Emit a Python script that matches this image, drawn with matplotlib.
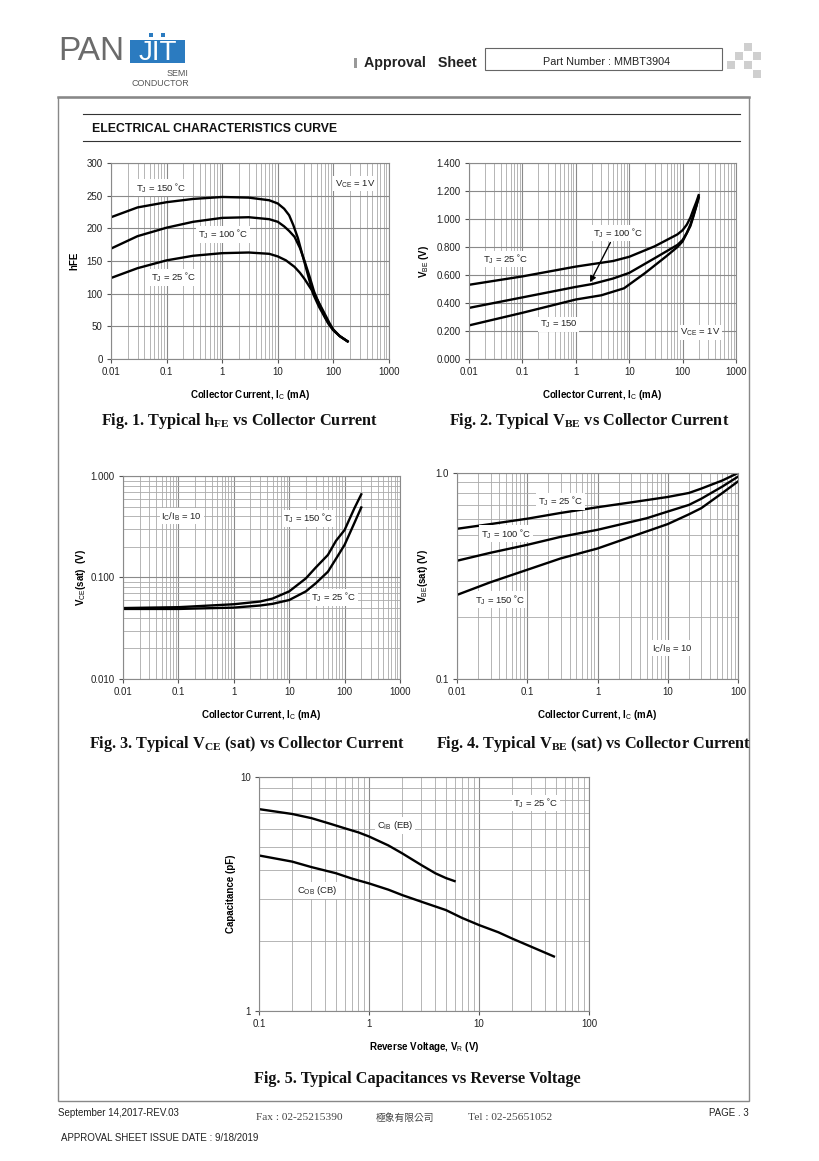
import numpy as np
import matplotlib
matplotlib.use('Agg')
import matplotlib.pyplot as plt
from matplotlib.patches import Rectangle
from matplotlib.ticker import FixedLocator, NullFormatter, LogLocator

plt.rcParams['font.family'] = ['Liberation Sans', 'DejaVu Sans']
plt.rcParams['mathtext.fontset'] = 'custom'
plt.rcParams['mathtext.rm'] = 'Liberation Sans'
plt.rcParams['mathtext.it'] = 'Liberation Sans'
# captions use \mathbf -> serif bold subscripts
plt.rcParams['mathtext.bf'] = 'Liberation Serif:bold'

# ---- Fig. 1 : hFE vs Ic ----
hfe_ic_150 = [0.01, 0.03, 0.1, 0.3, 1, 3, 7, 10, 13, 16, 19, 23, 28, 35, 43, 55, 64, 80, 100, 130, 180]
hfe_150 = [217, 232, 240, 245, 248, 247, 243, 238, 230, 220, 205, 185, 158, 128, 100, 80, 70, 55, 44, 35, 27]
hfe_ic_100 = [0.01, 0.03, 0.1, 0.3, 1, 3, 7, 10, 13, 16, 20, 25, 30, 37, 45, 55, 70, 85, 100, 130, 180]
hfe_100 = [169, 188, 201, 210, 216, 217, 214, 210, 203, 196, 187, 170, 151, 127, 103, 85, 65, 52, 44, 35, 27]
hfe_ic_25 = [0.01, 0.03, 0.1, 0.3, 1, 3, 7, 10, 14, 20, 25, 30, 37, 45, 55, 70, 85, 100, 130, 180]
hfe_25 = [124, 139, 151, 158, 162, 163, 161, 157, 151, 141, 132, 123, 111, 100, 86, 69, 55, 45, 35, 27]

# ---- Fig. 2 : VBE vs Ic ----
vbe_ic_25 = [0.01, 0.1, 1, 5, 10, 30, 80, 100, 120, 140, 160, 180, 200]
vbe_25 = [0.53, 0.59, 0.66, 0.70, 0.73, 0.805, 0.89, 0.92, 0.96, 1.01, 1.07, 1.12, 1.17]
vbe_ic_100 = [0.01, 0.1, 1, 2, 5, 10, 30, 80, 100, 120, 140, 160, 180, 200]
vbe_100 = [0.365, 0.44, 0.515, 0.535, 0.575, 0.615, 0.72, 0.815, 0.85, 0.90, 0.95, 1.02, 1.09, 1.16]
vbe_ic_150 = [0.01, 0.1, 1, 3, 8, 20, 50, 80, 100, 120, 140, 160, 180, 200]
vbe_150 = [0.24, 0.33, 0.425, 0.455, 0.505, 0.615, 0.735, 0.80, 0.84, 0.90, 0.96, 1.03, 1.09, 1.15]

# ---- Fig. 3 : VCE(sat) vs Ic ----
vcesat_ic = [0.01, 0.1, 1, 3, 5, 10, 20, 30, 50, 70, 100, 150, 200]
vcesat_150 = [0.050, 0.051, 0.0545, 0.058, 0.062, 0.073, 0.098, 0.125, 0.167, 0.23, 0.294, 0.48, 0.66]
vcesat_25 = [0.049, 0.049, 0.0505, 0.053, 0.055, 0.060, 0.073, 0.0875, 0.114, 0.153, 0.21, 0.344, 0.49]

# ---- Fig. 4 : VBE(sat) vs Ic ----
vbesat_ic_25 = [0.01, 0.03, 0.1, 0.3, 1, 3, 10, 20, 30, 60, 100]
vbesat_25 = [0.536, 0.565, 0.60, 0.64, 0.682, 0.72, 0.765, 0.80, 0.84, 0.92, 1.0]
vbesat_ic_100 = [0.01, 0.03, 0.1, 0.3, 1, 5, 10, 20, 30, 60, 100]
vbesat_100 = [0.375, 0.41, 0.448, 0.49, 0.53, 0.603, 0.65, 0.70, 0.75, 0.86, 0.96]
vbesat_ic_150 = [0.01, 0.03, 0.1, 0.3, 1, 3, 10, 20, 30, 60, 100]
vbesat_150 = [0.256, 0.295, 0.339, 0.385, 0.43, 0.49, 0.565, 0.63, 0.675, 0.80, 0.91]

# ---- Fig. 5 : Capacitance vs VR ----
cib_vr = [0.1, 0.2, 0.3, 0.45, 0.6, 0.8, 1, 1.5, 2, 3, 4, 5, 6]
cib = [7.29, 6.95, 6.67, 6.3, 6.04, 5.8, 5.57, 5.1, 4.72, 4.2, 3.88, 3.7, 3.59]
cob_vr = [0.1, 0.2, 0.3, 0.5, 0.7, 1, 1.5, 2, 3, 5, 7, 10, 15, 20, 30, 48]
cob = [4.62, 4.35, 4.12, 3.88, 3.68, 3.51, 3.3, 3.13, 2.93, 2.70, 2.5, 2.33, 2.17, 2.04, 1.88, 1.71]

ic_ticks = [0.01, 0.1, 1, 10, 100, 1000]
ic_labels = ['0.01', '0.1', '1', '10', '100', '1000']

W, H = 820, 1161
fig = plt.figure(figsize=(W / 100, H / 100), dpi=100)

# overlay in pixel coordinates for the page decorations
page = fig.add_axes([0, 0, 1, 1])
page.set_xlim(0, W)
page.set_ylim(H, 0)
page.axis('off')


def px_axes(l, t, r, b):
    return fig.add_axes([l / W, 1 - b / H, (r - l) / W, (b - t) / H])


def style(ax, logy=False):
    ax.set_xscale('log')
    if logy:
        ax.set_yscale('log')
    ax.grid(True, which='major', color='#8a8a8a', lw=0.8)
    ax.grid(True, which='minor', axis='x', color='#aaaaaa', lw=0.6)
    if logy:
        ax.grid(True, which='minor', axis='y', color='#aaaaaa', lw=0.6)
    ax.xaxis.set_minor_locator(LogLocator(base=10, subs=np.arange(2, 10)))
    ax.xaxis.set_minor_formatter(NullFormatter())
    if logy:
        ax.yaxis.set_minor_locator(LogLocator(base=10, subs=np.arange(2, 10)))
        ax.yaxis.set_minor_formatter(NullFormatter())
    for s in ax.spines.values():
        s.set_color('#8a8a8a')
        s.set_linewidth(0.8)
    ax.tick_params(which='major', length=3, width=0.8, color='#555555',
                   labelsize=7, labelcolor='#222222', pad=3)
    ax.tick_params(which='minor', length=0)
    ax.set_axisbelow(True)


def lbl(ax, x, y, s, ha='left'):
    ax.text(x, y, s, fontsize=6.8, ha=ha, va='center', color='#222222',
            bbox=dict(fc='white', ec='none', pad=1.2), zorder=4)


LW = 1.7
J = r'$_\mathrm{J}$'
ic_xlabel = r'Collector Current, I$_\mathrm{C}$ (mA)'

# Fig 1
ax1 = px_axes(111, 163, 389, 359)
style(ax1)
ax1.plot(hfe_ic_150, hfe_150, color='k', lw=LW)
ax1.plot(hfe_ic_100, hfe_100, color='k', lw=LW)
ax1.plot(hfe_ic_25, hfe_25, color='k', lw=LW)
ax1.set_xlim(0.01, 1000)
ax1.set_ylim(0, 300)
ax1.set_yticks(range(0, 301, 50))
ax1.xaxis.set_major_locator(FixedLocator(ic_ticks))
ax1.set_xticklabels(ic_labels)
ax1.set_ylabel('hFE', fontsize=7, fontweight='bold', labelpad=5)
ax1.set_xlabel(ic_xlabel, fontsize=7, fontweight='bold', labelpad=8)
lbl(ax1, 0.028, 262, 'T' + J + ' = 150 ˚C')
lbl(ax1, 0.36, 191, 'T' + J + ' = 100 ˚C')
lbl(ax1, 0.052, 125, 'T' + J + ' = 25 ˚C')
lbl(ax1, 105, 268, r'V$_\mathrm{CE}$ = 1V')

# Fig 2
ax2 = px_axes(469, 163, 736, 359)
style(ax2)
ax2.plot(vbe_ic_25, vbe_25, color='k', lw=LW)
ax2.plot(vbe_ic_100, vbe_100, color='k', lw=LW)
ax2.plot(vbe_ic_150, vbe_150, color='k', lw=LW)
ax2.set_xlim(0.01, 1000)
ax2.set_ylim(0, 1.4)
ax2.set_yticks(np.arange(0, 1.41, 0.2))
ax2.set_yticklabels(['%.3f' % v for v in np.arange(0, 1.41, 0.2)])
ax2.xaxis.set_major_locator(FixedLocator(ic_ticks))
ax2.set_xticklabels(ic_labels)
ax2.set_ylabel(r'V$_\mathrm{BE}$ (V)', fontsize=7, fontweight='bold', labelpad=4)
ax2.set_xlabel(ic_xlabel, fontsize=7, fontweight='bold', labelpad=8)
lbl(ax2, 0.0186, 0.714, 'T' + J + ' = 25 ˚C')
lbl(ax2, 2.1, 0.90, 'T' + J + ' = 100 ˚C')
lbl(ax2, 0.21, 0.245, 'T' + J + ' = 150')
lbl(ax2, 89, 0.19, r'V$_\mathrm{CE}$ = 1V')
ax2.annotate('', xy=(1.75, 0.53), xytext=(4.7, 0.85),
             arrowprops=dict(arrowstyle='-|>', color='k', lw=1.0, mutation_scale=9), zorder=5)

# Fig 3
ax3 = px_axes(123, 476, 400, 679)
style(ax3, logy=True)
ax3.plot(vcesat_ic, vcesat_150, color='k', lw=LW)
ax3.plot(vcesat_ic, vcesat_25, color='k', lw=LW)
ax3.set_xlim(0.01, 1000)
ax3.set_ylim(0.01, 1.0)
ax3.yaxis.set_major_locator(FixedLocator([0.01, 0.1, 1.0]))
ax3.set_yticklabels(['0.010', '0.100', '1.000'])
ax3.xaxis.set_major_locator(FixedLocator(ic_ticks))
ax3.set_xticklabels(ic_labels)
ax3.set_ylabel(r'V$_\mathrm{CE}$(sat)  (V)', fontsize=7, fontweight='bold', labelpad=2)
ax3.set_xlabel(ic_xlabel, fontsize=7, fontweight='bold', labelpad=8)
lbl(ax3, 0.049, 0.40, r'I$_\mathrm{C}$/I$_\mathrm{B}$ = 10')
lbl(ax3, 7.8, 0.38, 'T' + J + ' = 150 ˚C')
lbl(ax3, 25, 0.064, 'T' + J + ' = 25 ˚C')

# Fig 4
ax4 = px_axes(457, 473, 738, 679)
style(ax4, logy=True)
ax4.plot(vbesat_ic_25, vbesat_25, color='k', lw=LW)
ax4.plot(vbesat_ic_100, vbesat_100, color='k', lw=LW)
ax4.plot(vbesat_ic_150, vbesat_150, color='k', lw=LW)
ax4.set_xlim(0.01, 100)
ax4.set_ylim(0.1, 1.0)
ax4.yaxis.set_major_locator(FixedLocator([0.1, 1.0]))
ax4.set_yticklabels(['0.1', '1.0'])
ax4.xaxis.set_major_locator(FixedLocator(ic_ticks[:-1]))
ax4.set_xticklabels(ic_labels[:-1])
ax4.set_ylabel(r'V$_\mathrm{BE}$(sat) (V)', fontsize=7, fontweight='bold', labelpad=4)
ax4.set_xlabel(ic_xlabel, fontsize=7, fontweight='bold', labelpad=8)
lbl(ax4, 0.143, 0.73, 'T' + J + ' = 25 ˚C')
lbl(ax4, 0.022, 0.506, 'T' + J + ' = 100 ˚C')
lbl(ax4, 0.018, 0.242, 'T' + J + ' = 150 ˚C')
lbl(ax4, 5.9, 0.141, r'I$_\mathrm{C}$/I$_\mathrm{B}$ = 10')

# Fig 5
ax5 = px_axes(259, 777, 589, 1011)
style(ax5, logy=True)
ax5.plot(cib_vr, cib, color='k', lw=LW)
ax5.plot(cob_vr, cob, color='k', lw=LW)
ax5.set_xlim(0.1, 100)
ax5.set_ylim(1, 10)
ax5.yaxis.set_major_locator(FixedLocator([1, 10]))
ax5.set_yticklabels(['1', '10'])
ax5.xaxis.set_major_locator(FixedLocator([0.1, 1, 10, 100]))
ax5.set_xticklabels(['0.1', '1', '10', '100'])
ax5.set_ylabel('Capacitance (pF)', fontsize=7, fontweight='bold', labelpad=3)
ax5.set_xlabel(r'Reverse Voltage, V$_\mathrm{R}$ (V)', fontsize=7, fontweight='bold', labelpad=8)
lbl(ax5, 1.74, 6.2, r'C$_\mathrm{IB}$ (EB)', ha='center')
lbl(ax5, 0.337, 3.27, r'C$_\mathrm{OB}$ (CB)', ha='center')
lbl(ax5, 33, 7.74, 'T' + J + ' = 25 ˚C', ha='center')

# ---- page decorations ----
serif = ['Liberation Serif', 'DejaVu Serif']
cap_kw = dict(fontsize=11.7, fontweight='bold', family=serif, ha='center', va='center', color='#111111')
page.text(240, 421, r'Fig. 1. Typical h$_\mathbf{FE}$ vs Collector Current', **cap_kw)
page.text(589, 421, r'Fig. 2. Typical V$_\mathbf{BE}$ vs Collector Current', **cap_kw)
page.text(247, 744, r'Fig. 3. Typical V$_\mathbf{CE}$ (sat) vs Collector Current', **cap_kw)
page.text(594, 744, r'Fig. 4. Typical V$_\mathbf{BE}$ (sat) vs Collector Current', **cap_kw)
page.text(417, 1079, 'Fig. 5. Typical Capacitances vs Reverse Voltage', **cap_kw)

# outer frame and section heading
page.add_patch(Rectangle((58, 97), 691, 1004, fill=False, ec='#888888', lw=1.0))
page.plot([58, 749], [97, 97], color='#888888', lw=1.8)
page.plot([83, 740], [114, 114], color='#333333', lw=0.8)
page.plot([83, 740], [141, 141], color='#333333', lw=0.8)
page.text(92, 129, 'ELECTRICAL CHARACTERISTICS CURVE', fontsize=8.8, fontweight='bold',
          ha='left', va='center', color='#111111')

# logo
page.text(58, 52, 'PAN', fontsize=24, color='#6b6b6b', ha='left', va='center')
page.add_patch(Rectangle((130, 40), 55, 23, color='#2b7bc0', lw=0))
page.text(157.5, 53, 'JIT', fontsize=20, color='white', ha='center', va='center')
page.add_patch(Rectangle((149, 33), 4, 4, color='#2b7bc0', lw=0))
page.add_patch(Rectangle((161, 33), 4, 4, color='#2b7bc0', lw=0))
page.text(188, 73, 'SEMI', fontsize=6.4, color='#555555', ha='right', va='center')
page.text(189, 83, 'CONDUCTOR', fontsize=6.4, color='#555555', ha='right', va='center')

# approval sheet header
page.add_patch(Rectangle((354, 58), 3, 10, color='#999999', lw=0))
page.text(364, 63, 'Approval   Sheet', fontsize=10.3, fontweight='bold', color='#222222',
          ha='left', va='center')
page.add_patch(Rectangle((485, 48), 237, 22, fill=False, ec='#666666', lw=0.8))
page.text(607, 62, 'Part Number : MMBT3904', fontsize=7.8, color='#222222', ha='center', va='center')
for sx, sy in [(744, 43), (735, 52), (753, 52), (727, 61), (744, 61), (753, 70)]:
    page.add_patch(Rectangle((sx, sy), 8, 8, color='#cfcfcf', lw=0))

# footer
page.text(58, 1113, 'September 14,2017-REV.03', fontsize=7, color='#222222', ha='left', va='center')
page.text(256, 1118, 'Fax : 02-25215390', fontsize=8.2, color='#444444', ha='left', va='center',
          family=serif)
page.text(376, 1118, '極象有限公司', fontsize=7, color='#444444', ha='left', va='center',
          family=['Noto Sans CJK TC', 'DejaVu Sans'])
page.text(468, 1118, 'Tel : 02-25651052', fontsize=8.2, color='#444444', ha='left', va='center',
          family=serif)
page.text(749, 1113, 'PAGE . 3', fontsize=7, color='#222222', ha='right', va='center')
page.text(61, 1138, 'APPROVAL SHEET ISSUE DATE : 9/18/2019', fontsize=7, color='#222222',
          ha='left', va='center')

fig.savefig('out.png', dpi=100)
